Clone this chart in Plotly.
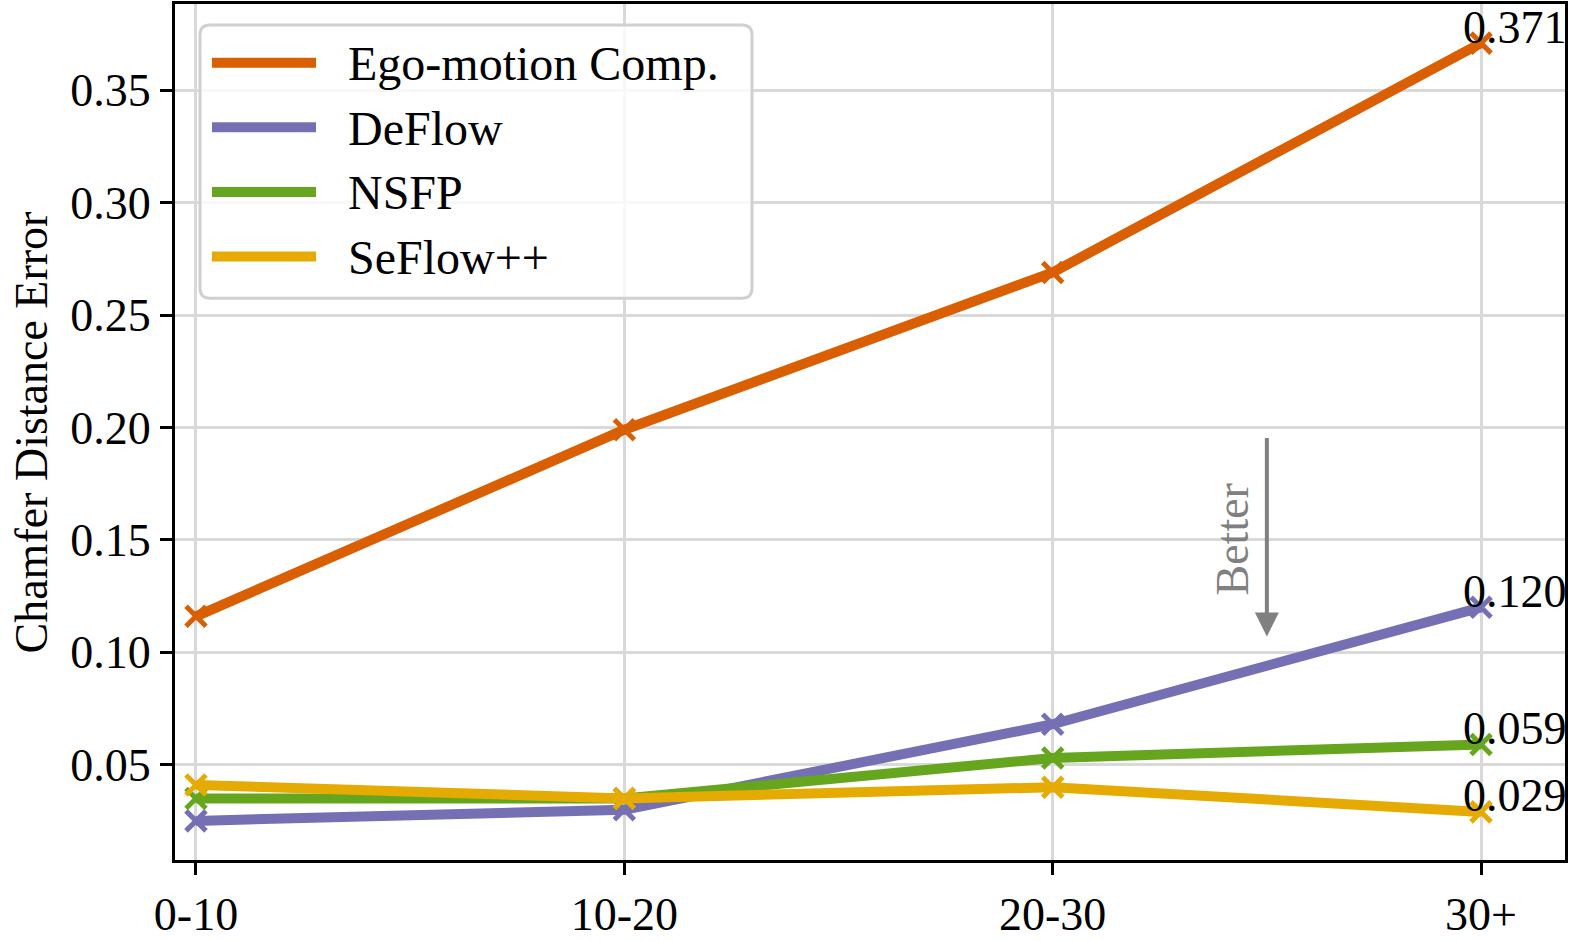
import plotly.graph_objects as go

categories = ["0-10", "10-20", "20-30", "30+"]
ego = [0.116, 0.199, 0.269, 0.371]
deflow = [0.025, 0.030, 0.068, 0.120]
nsfp = [0.035, 0.035, 0.053, 0.059]
seflow = [0.041, 0.035, 0.040, 0.029]
series_names = ["Ego-motion Comp.", "DeFlow", "NSFP", "SeFlow++"]
colors = ["#D95F02", "#7570B3", "#66A61E", "#E6AB02"]
yticks = [0.05, 0.10, 0.15, 0.20, 0.25, 0.30, 0.35]

FONT = "Liberation Serif"
FS = 46

W, H = 1577, 941
ML, MR, MT, MB = 175, 12, 1, 79
PW, PH = W - ML - MR, H - MT - MB


def px(x):
    return (x - ML) / PW


def py(y):
    return 1 - (y - MT) / PH


xs = list(range(len(categories)))
fig = go.Figure()
for name, vals, c in zip(series_names, [ego, deflow, nsfp, seflow], colors):
    fig.add_trace(go.Scatter(
        x=xs, y=vals, name=name, mode="lines+markers", showlegend=False,
        line=dict(color=c, width=10),
        marker=dict(symbol="x-thin", size=20, line=dict(color=c, width=5), color=c),
        cliponaxis=False,
    ))
    fig.add_annotation(x=xs[-1], y=vals[-1], text=f"{vals[-1]:.3f}", showarrow=False,
                       xanchor="left", yanchor="middle", xshift=-20, yshift=16,
                       font=dict(family=FONT, size=FS, color="black"))

# Manual legend (rounded box, line samples, labels)
bx0, bx1, by0, by1, r = 200, 752, 22, 297, 10
path = (f"M {px(bx0 + r)} {py(by0)} L {px(bx1 - r)} {py(by0)} Q {px(bx1)} {py(by0)} {px(bx1)} {py(by0 + r)} "
        f"L {px(bx1)} {py(by1 - r)} Q {px(bx1)} {py(by1)} {px(bx1 - r)} {py(by1)} "
        f"L {px(bx0 + r)} {py(by1)} Q {px(bx0)} {py(by1)} {px(bx0)} {py(by1 - r)} "
        f"L {px(bx0)} {py(by0 + r)} Q {px(bx0)} {py(by0)} {px(bx0 + r)} {py(by0)} Z")
fig.add_shape(type="path", path=path, xref="paper", yref="paper",
              fillcolor="rgba(255,255,255,0.8)", line=dict(color="#d0d0d0", width=3), layer="above")
for i, (name, c) in enumerate(zip(series_names, colors)):
    yy = 60 + 65 * i
    fig.add_shape(type="line", xref="paper", yref="paper", x0=px(212), x1=px(316), y0=py(yy), y1=py(yy),
                  line=dict(color=c, width=10), layer="above")
    fig.add_annotation(x=px(346), y=py(yy), xref="paper", yref="paper", text=name, showarrow=False,
                       xanchor="left", yanchor="middle", yshift=-1,
                       font=dict(family=FONT, size=48, color="black"))

# Better arrow
fig.add_annotation(x=2.5, y=0.107, ax=2.5, ay=0.196, xref="x", yref="y", axref="x", ayref="y",
                   showarrow=True, arrowhead=2, arrowsize=1.2, arrowwidth=4, arrowcolor="#808080", text="")
fig.add_annotation(x=2.42, y=0.15, text="Better", textangle=-90, showarrow=False,
                   font=dict(family=FONT, size=FS, color="#808080"))

fig.add_annotation(x=px(31), y=py(432), xref="paper", yref="paper", text="Chamfer Distance Error",
                   textangle=-90, showarrow=False, xanchor="center", yanchor="middle",
                   font=dict(family=FONT, size=FS, color="black"))

fig.update_layout(
    width=W, height=H,
    margin=dict(l=ML, r=MR, t=MT, b=MB),
    plot_bgcolor="white", paper_bgcolor="white",
    font=dict(family=FONT, size=FS, color="black"),
    showlegend=False,
)
fig.update_xaxes(range=[-0.049, 3.196], tickvals=xs, ticktext=categories,
                 showgrid=True, gridcolor="#d9d9d9", gridwidth=3,
                 showline=True, linecolor="black", linewidth=3, mirror=True,
                 ticks="outside", ticklen=12, tickwidth=3, tickcolor="black", zeroline=False)
fig.update_yaxes(range=[0.0076, 0.3884], tickvals=yticks, tickformat=".2f",
                 showgrid=True, gridcolor="#d9d9d9", gridwidth=3,
                 showline=True, linecolor="black", linewidth=3, mirror=True,
                 ticks="outside", ticklen=12, tickwidth=3, tickcolor="black", zeroline=False)

fig.write_html("out.html", config={"displayModeBar": False},
               post_script="document.body.style.margin='0';document.body.style.overflow='hidden';")
